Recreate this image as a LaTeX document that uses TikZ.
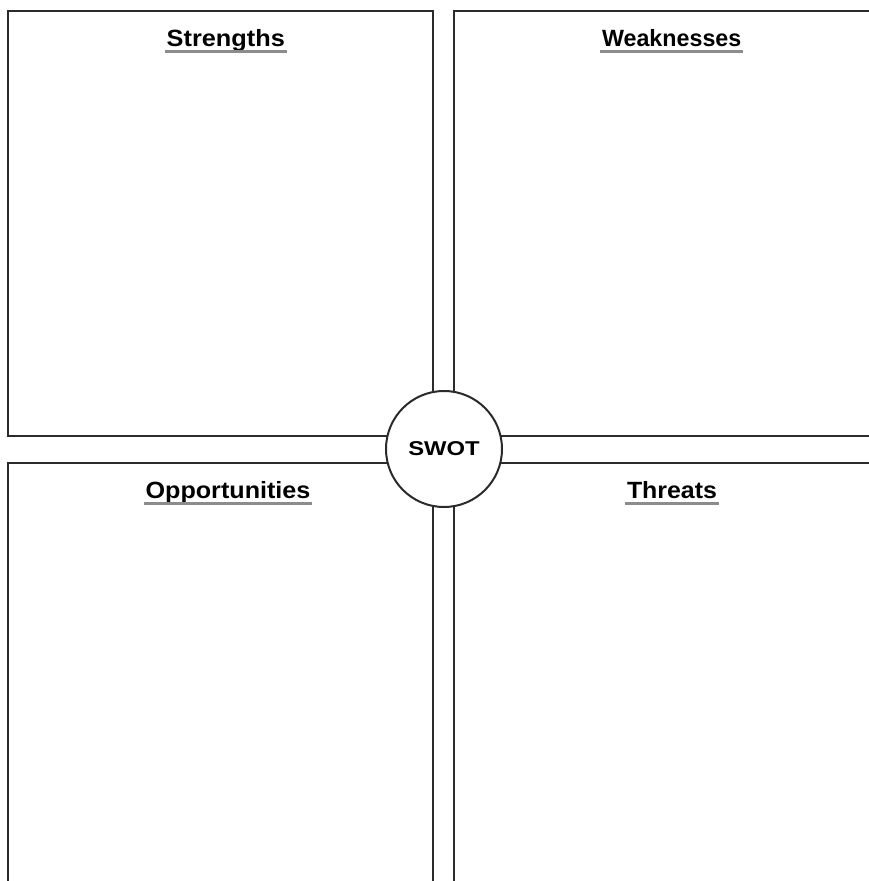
\documentclass[tikz,border=0pt]{standalone}
\usepackage{fontspec}
\setmainfont{Liberation Sans}
\definecolor{linec}{HTML}{2B2B2B}
\definecolor{ulc}{HTML}{8C8C8C}
\begin{document}
\begin{tikzpicture}[x=1pt,y=-1pt]
\tikzset{
  quad/.style={draw=linec, line width=2pt, inner sep=0pt, anchor=north west},
  head/.style={font=\bfseries\fontsize{23.5}{28}\selectfont, text=black, inner xsep=1.5pt, inner ysep=0pt, anchor=base},
  uline/.style={draw=ulc, line width=2.5pt},
  hub/.style={circle, draw=linec, fill=white, line width=2pt, minimum size=116pt, inner sep=0pt, font=\bfseries\fontsize{20}{24}\selectfont}
}
\useasboundingbox (0,0) rectangle (869,881);
\fill[white] (0,0) rectangle (869,881);
\clip (0,0) rectangle (869,881);
\node[quad, minimum width=425.5pt, minimum height=425.2pt] (sq) at (6.5,9.5) {};
\node[quad, minimum width=430pt, minimum height=425.2pt] (wq) at (453,9.5) {};
\node[quad, minimum width=425.5pt, minimum height=430pt] (oq) at (6.5,462) {};
\node[quad, minimum width=430pt, minimum height=430pt] (tq) at (453,462) {};
\node[head] (st) at (225.8,46.7) {\scalebox{1.077}[1]{Strengths}};
\node[head] (wt) at (671.7,46.7) {\scalebox{0.99}[1]{Weaknesses}};
\node[head] (ot) at (228,498.3) {\scalebox{1.07}[1]{Opportunities}};
\node[head] (tt) at (672,498.3) {\scalebox{1.06}[1]{Threats}};
\foreach \n in {st,wt,ot,tt}{
  \draw[uline] ([yshift=-5pt]\n.base west) -- ([yshift=-5pt]\n.base east);
}
\node[hub] (swot) at (444,449) {\scalebox{1.19}[1]{SWOT}};
\end{tikzpicture}
\end{document}
